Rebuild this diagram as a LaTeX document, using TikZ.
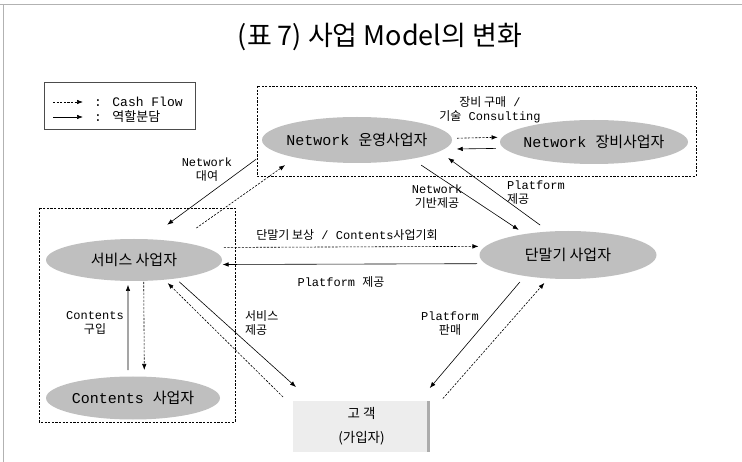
\documentclass[tikz,border=0pt]{standalone}
\usepackage{fontspec}
\setmainfont{Liberation Mono}
\newfontfamily\krfont{Noto Sans CJK KR}
\newcommand{\kr}[1]{{\krfont #1}}
\usetikzlibrary{arrows.meta,shapes.geometric}

\begin{document}
\begin{tikzpicture}[x=1pt,y=-1pt,
    biz/.style={ellipse,fill=black!25,inner ysep=0pt,inner xsep=-15pt,outer sep=0pt,font=\fontsize{15}{17}\selectfont},
    cash/.style={-{Latex[length=6pt,width=4.5pt]},line width=0.6pt,dash pattern=on 2.2pt off 1.4pt},
    role/.style={-{Latex[length=6pt,width=4.5pt]},line width=0.6pt},
    grp/.style={line width=0.6pt,dash pattern=on 2.2pt off 1.4pt},
    lbl/.style={inner sep=0pt,align=center,font=\fontsize{12}{14}\selectfont}]
        \useasboundingbox (0,0) rectangle (742,462);
        \draw[gray!60,line width=1pt] (0,5)--(742,5) (3,5)--(3,462);

        \node[font=\krfont\fontsize{27}{30}\selectfont] (title) at (380,37) {(표 7) 사업 Model의 변화};

        % legend
        \draw[black!70,line width=0.8pt] (44,82) rectangle (195,129);
        \coordinate (cashtail) at (53,102);
        \coordinate (roletail) at (53,117);
        \node[anchor=west,inner sep=0pt,font=\fontsize{13}{15}\selectfont] (cashtxt) at (94,102) {: Cash Flow};
        \node[anchor=west,inner sep=0pt,font=\fontsize{13}{15}\selectfont] (roletxt) at (94,117) {: \kr{역할분담}};
        \draw[cash,shorten >=11pt] (cashtail) -- (cashtail -| cashtxt.west);
        \draw[role,shorten >=11pt] (roletail) -- (roletail -| roletxt.west);

        % groups
        \draw[grp] (257,86) rectangle (696,176);
        \draw[grp] (39,208) rectangle (235,422);

        % players
        \node[biz,minimum width=190pt,minimum height=46pt] (net) at (357,140) {Network \kr{운영사업자}};
        \node[biz,minimum width=188pt,minimum height=44pt] (equip) at (594,142) {Network \kr{장비사업자}};
        \node[biz,minimum width=176pt,minimum height=42pt] (svc) at (134,260) {\kr{서비스 사업자}};
        \node[biz,minimum width=177pt,minimum height=48pt] (term) at (568,255) {\kr{단말기 사업자}};
        \node[biz,minimum width=174pt,minimum height=43pt] (cont) at (133,398) {Contents \kr{사업자}};
        \node[fill=black!7,minimum width=137pt,minimum height=51pt,inner sep=0pt,outer sep=0pt,align=center,
              font=\krfont\fontsize{13.5}{24}\selectfont] (cust) at (361.5,426.5) {고 객\\(가입자)};
        \draw[gray!65,line width=3pt] ([xshift=-1.5pt]cust.north east) -- ([xshift=-1.5pt]cust.south east);

        % flows
        \draw[cash,shorten <=5.4pt,shorten >=4.6pt] (net.1.2) -- (equip.177.5);
        \draw[role,shorten <=8pt,shorten >=12.6pt] (equip.184.5) -- (net.354.1);
        \draw[role,shorten <=17pt,shorten >=24.5pt] (net.186.8) -- (svc.57.8);
        \draw[cash,shorten <=23.6pt,shorten >=13pt] (svc.23.9) -- (net.196);
        \draw[role,shorten <=11.5pt,shorten >=7.5pt] (net.341.9) -- (term.154.6);
        \draw[role,shorten <=11pt,shorten >=11pt] (term.129) -- (net.352);
        \draw[cash,shorten <=19pt,shorten >=7pt] (svc.10.65) -- (term.174.5);
        \draw[role,shorten <=8.4pt,shorten >=2.6pt] (term.186.3) -- (svc.357.3);
        \draw[role,shorten <=6.5pt,shorten >=4pt] (cont.103.1) -- (svc.254);
        \draw[cash,shorten <=1pt,shorten >=6.7pt] (svc.295.6) -- (cont.62.7);
        \draw[role,shorten <=5pt,shorten >=20.8pt] (svc.336.3) -- (cust.153.5);
        \draw[cash,shorten <=14pt,shorten >=4.7pt] (cust.164) -- (svc.327.3);
        \draw[role,shorten <=8pt,shorten >=17pt] (term.206.1) -- (cust.24.3);
        \draw[cash,shorten <=19.6pt,shorten >=6pt] (cust.11.4) -- (term.230.9);

        % labels
        \node[lbl] (buylbl) at (490,110) {\kr{장비 구매} /\\\kr{기술} Consulting};
        \node[lbl] (rentlbl) at (207,170) {Network\\\kr{대여}};
        \node[lbl] (baselbl) at (437,197) {Network\\\kr{기반제공}};
        \node[lbl,anchor=west,align=left] (pflbl) at (507,193) {Platform\\\kr{제공}};
        \node[lbl] (bonuslbl) at (347,235) {\kr{단말기 보상} / Contents\kr{사업기회}};
        \node[lbl] (pfsvclbl) at (341,282) {Platform \kr{제공}};
        \node[lbl] (cbuylbl) at (95,323) {Contents\\\kr{구입}};
        \node[lbl,anchor=west,align=left] (svclbl) at (245,323) {\kr{서비스}\\\kr{제공}};
        \node[lbl] (salelbl) at (450,324) {Platform\\\kr{판매}};
\end{tikzpicture}
\end{document}
